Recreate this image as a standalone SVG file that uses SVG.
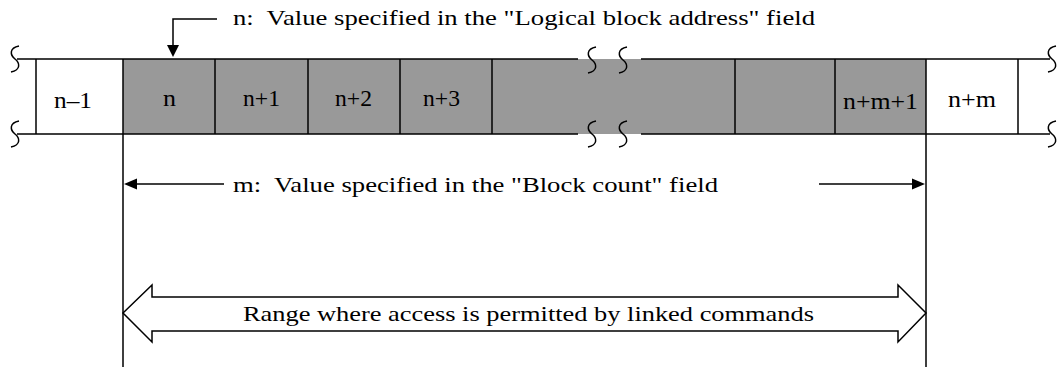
<svg xmlns="http://www.w3.org/2000/svg" width="1058" height="367" viewBox="0 0 1058 367">
<style>
.ln{stroke:#000;stroke-width:1.5;fill:none}
.t{font-family:'Liberation Serif','Times New Roman',serif;font-size:22px;fill:#000;white-space:pre}
.lb{font-family:'Liberation Serif','Times New Roman',serif;font-size:24px;fill:#000}
.sq{stroke:#000;stroke-width:1.5;fill:none}
</style>
<defs>
<path id="sq" class="sq" d="M 4 -13 C -6 -11 -5 -4 0 0 C 5 4 6 11 -4 13"/>
</defs>
<rect width="1058" height="367" fill="#fff"/>
<g id="band">
<rect x="123" y="59" width="803" height="75" fill="#999"/>
<path class="ln" d="M17 59H578M641 59H1050M17 134H578M641 134H1050"/>
<use href="#sq" x="15" y="59"/>
<use href="#sq" x="15" y="134"/>
<use href="#sq" x="1052" y="59"/>
<use href="#sq" x="1052" y="134"/>
<use href="#sq" x="592" y="60"/>
<use href="#sq" x="623" y="60"/>
<use href="#sq" x="592" y="134"/>
<use href="#sq" x="623" y="134"/>
</g>
<g id="cell-n-1"><path class="ln" d="M36 59V134"/><text class="lb" x="54" y="108" textLength="38" lengthAdjust="spacingAndGlyphs">n–1</text></g>
<g id="cell-n"><path class="ln" d="M123 59V134"/><text class="lb" x="163" y="106" textLength="13" lengthAdjust="spacingAndGlyphs">n</text></g>
<g id="cell-n1"><path class="ln" d="M215 59V134"/><text class="lb" x="243" y="106" textLength="37" lengthAdjust="spacingAndGlyphs">n+1</text></g>
<g id="cell-n2"><path class="ln" d="M308 59V134"/><text class="lb" x="335" y="106" textLength="37" lengthAdjust="spacingAndGlyphs">n+2</text></g>
<g id="cell-n3"><path class="ln" d="M400 59V134"/><text class="lb" x="423" y="106" textLength="37" lengthAdjust="spacingAndGlyphs">n+3</text></g>
<g id="cell-gap"><path class="ln" d="M492 59V134"/></g>
<g id="cell-pre"><path class="ln" d="M735 59V134"/></g>
<g id="cell-nm1"><path class="ln" d="M835 59V134"/><text class="lb" x="843" y="109" textLength="75" lengthAdjust="spacingAndGlyphs">n+m+1</text></g>
<g id="cell-nm"><path class="ln" d="M926 59V134"/><text class="lb" x="948" y="107" textLength="48" lengthAdjust="spacingAndGlyphs">n+m</text></g>
<g id="cell-end"><path class="ln" d="M1018 59V134"/></g>
<g id="labels">
<text class="t" x="233" y="25" textLength="582" lengthAdjust="spacingAndGlyphs" xml:space="preserve">n:  Value specified in the "Logical block address" field</text>
<text class="t" x="233" y="192" textLength="485" lengthAdjust="spacingAndGlyphs" xml:space="preserve">m:  Value specified in the "Block count" field</text>
</g>
<g id="connectors">
<path class="ln" d="M123 134V367M926 134V367"/>
<path class="ln" d="M217 19H173V46"/>
<polygon points="167,45 179,45 173,57" fill="#000"/>
<path class="ln" d="M134 184H224"/>
<polygon points="124,184 137,178.5 137,189.5" fill="#000"/>
<path class="ln" d="M819 184H914"/>
<polygon points="925,184 912,178.5 912,189.5" fill="#000"/>
<polygon class="ln" fill="#fff" points="123,313 152,285 152,297 898,297 898,285 926,313 898,342 898,331 152,331 152,342"/>
<text class="t" x="243" y="321" textLength="571" lengthAdjust="spacingAndGlyphs">Range where access is permitted by linked commands</text>
</g>
</svg>
